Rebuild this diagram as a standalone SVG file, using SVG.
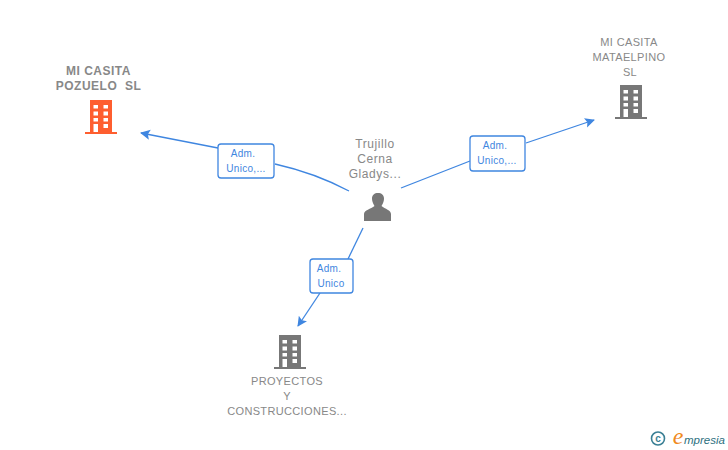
<svg xmlns="http://www.w3.org/2000/svg" width="728" height="450" viewBox="0 0 728 450">
<style>
.l{font-family:"Liberation Sans",Arial,sans-serif;font-size:11px;fill:#888;text-anchor:middle;letter-spacing:.35px}
.b{font-weight:bold;font-size:12px;letter-spacing:.5px}
.p{font-size:12px;letter-spacing:.6px}
.e{font-family:"Liberation Sans",Arial,sans-serif;font-size:10px;fill:#3f86e0;text-anchor:middle;letter-spacing:.3px}
.c{fill:none;stroke:#3f86e0;stroke-width:1.3}
.box{fill:#fff;stroke:#3f86e0;stroke-width:1.3}
</style>
<defs>
<marker id="a" markerUnits="userSpaceOnUse" markerWidth="12" markerHeight="12" refX="9" refY="5" orient="auto"><path d="M0 0L10 5L0 10L2 5Z" fill="#3f86e0"/></marker>
<g id="bld"><path d="M-11 15V-17H11V15H16V17H-16V15Z"/><g fill="#fff"><rect x="-7.500" y="-12" width="4.500" height="3.500"/><rect x="2.500" y="-12" width="4.500" height="3.500"/><rect x="-7.500" y="-5.500" width="4.500" height="4"/><rect x="2.500" y="-5.500" width="4.500" height="4"/><rect x="-7.500" y="1" width="4.500" height="3.500"/><rect x="2.500" y="1" width="4.500" height="3.500"/><rect x="-7.500" y="7" width="4.500" height="8"/><rect x="2.500" y="7" width="4.500" height="4"/></g></g>
</defs>
<g id="connectors">
<path class="c" d="M349 191Q315 173 275 164" />
<path class="c" d="M218 148L141 133" marker-end="url(#a)"/>
<path class="c" d="M401 188L470 161"/>
<path class="c" d="M526 143L594 120" marker-end="url(#a)"/>
<path class="c" d="M363 228L348 259"/>
<path class="c" d="M320 293L298 326" marker-end="url(#a)"/>
</g>
<g id="edge1"><rect class="box" x="218" y="144" width="56" height="34" rx="3"/><text class="e" x="243" y="157">Adm.</text><text class="e" x="246" y="172">Unico,...</text></g>
<g id="edge2"><rect class="box" x="470" y="136" width="55" height="35" rx="3"/><text class="e" x="495" y="149">Adm.</text><text class="e" x="497" y="164">Unico,...</text></g>
<g id="edge3"><rect class="box" x="310" y="259" width="43" height="34" rx="3"/><text class="e" x="329" y="272">Adm.</text><text class="e" x="331" y="287">Unico</text></g>
<g id="n1"><text class="l b" x="98.500" y="75">MI CASITA</text><text class="l b" x="98.500" y="90" xml:space="preserve">POZUELO  SL</text><use href="#bld" x="101" y="117" fill="#fe5e2f"/></g>
<g id="n2"><text class="l" x="629" y="46">MI CASITA</text><text class="l" x="629" y="61">MATAELPINO</text><text class="l" x="630" y="76">SL</text><use href="#bld" x="631" y="102" fill="#777"/></g>
<g id="n3"><text class="l p" x="375" y="148">Trujillo</text><text class="l p" x="375" y="163">Cerna</text><text class="l p" x="375" y="178">Gladys...</text><path fill="#777" d="M364 221V214C364 210 371 209 374.500 206C372.500 203 372 200 372 198.500C372 195 374.500 193 378 193C381.500 193 384 195 384 198.500C384 200 383.500 203 381.500 206C385 209 391 210 391 214V221Z"/></g>
<g id="n4"><use href="#bld" x="290" y="352" fill="#777"/><text class="l" x="287" y="385">PROYECTOS</text><text class="l" x="287" y="400">Y</text><text class="l" x="287" y="415">CONSTRUCCIONES...</text></g>
<g id="logo"><circle cx="658" cy="438.500" r="6.500" fill="none" stroke="#3a7f94" stroke-width="1.600"/><text x="658" y="442" font-family="Liberation Sans,sans-serif" font-weight="bold" font-size="10" fill="#3a7f94" text-anchor="middle">c</text><text x="678" y="444" font-family="Liberation Serif,serif" font-style="italic" font-size="24" fill="#f08a1d" text-anchor="middle">e</text><text x="684" y="444" font-family="Liberation Sans,sans-serif" font-style="italic" font-size="11.500" fill="#2d6f80">mpresia</text></g>
</svg>
